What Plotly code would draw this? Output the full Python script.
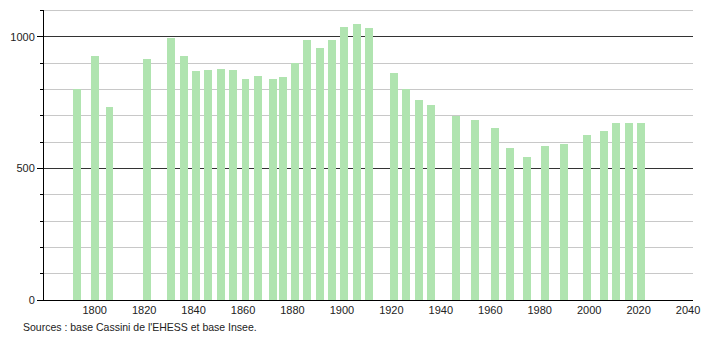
import plotly.graph_objects as go

years = [1793, 1800, 1806, 1821, 1831, 1836, 1841, 1846, 1851, 1856, 1861, 1866,
         1872, 1876, 1881, 1886, 1891, 1896, 1901, 1906, 1911, 1921, 1926, 1931,
         1936, 1946, 1954, 1962, 1968, 1975, 1982, 1990, 1999, 2006, 2011, 2016, 2021]
population = [800, 926, 733, 917, 994, 926, 870, 873, 876, 873, 841, 851,
              841, 849, 902, 987, 956, 987, 1039, 1048, 1032, 861, 800, 760,
              740, 701, 683, 653, 576, 543, 584, 592, 628, 642, 671, 674, 674]
x_ticks = [1800, 1820, 1840, 1860, 1880, 1900, 1920, 1940, 1960, 1980, 2000, 2020, 2040]
y_ticks = [0, 500, 1000]
y_top = 1100
source_text = "Sources : base Cassini de l'EHESS et base Insee."

fig = go.Figure()
fig.add_trace(go.Bar(x=years, y=population, width=3.2,
                     marker=dict(color="#b0e4b0", line=dict(width=0)),
                     hoverinfo="x+y"))

fig.add_shape(type="line", xref="paper", x0=0, x1=1, yref="y", y0=y_top, y1=y_top,
              line=dict(color="#c8c8c8", width=1), layer="below")

font = dict(family="Liberation Sans, Arial, sans-serif", size=11, color="#222222")

fig.update_layout(
    width=710, height=340,
    margin=dict(l=43, r=10, t=10, b=40),
    paper_bgcolor="white", plot_bgcolor="white",
    showlegend=False, font=font,
    xaxis=dict(range=[1779.5, 2042], tickvals=x_ticks, showgrid=False,
               showline=True, linecolor="black", linewidth=1, ticks="",
               zeroline=False, tickfont=font),
    yaxis=dict(range=[0, 1102], tickvals=y_ticks, showgrid=True,
               gridcolor="#333333", gridwidth=1,
               showline=True, linecolor="black", linewidth=1,
               ticks="outside", ticklen=6, tickcolor="black",
               zeroline=False, tickfont=font,
               minor=dict(dtick=100, tick0=0, ticks="outside", ticklen=3,
                          tickcolor="black", showgrid=True,
                          gridcolor="#c8c8c8", gridwidth=1)),
    annotations=[dict(text=source_text, xref="paper", yref="paper",
                      x=-0.035, y=-0.093, xanchor="left", yanchor="middle",
                      showarrow=False, font=dict(family="Liberation Sans, Arial, sans-serif",
                                                 size=10.5, color="#222222"))],
    bargap=0,
)

fig.write_html("out.html")
